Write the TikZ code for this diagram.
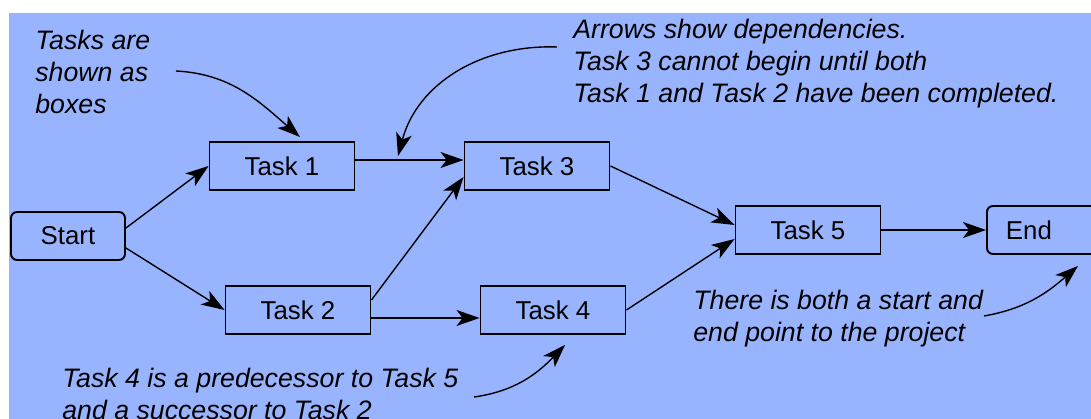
\documentclass[tikz,border=0pt]{standalone}
\usepackage{fontspec}
\setmainfont{Liberation Sans}
\usepackage{xcolor}
\usepackage{tikz}
\usetikzlibrary{arrows.meta}
\definecolor{bgblue}{RGB}{153,180,255}
\tikzset{ task_box/.style = {rectangle, draw, line width=1.1pt, minimum width=2.9cm, minimum height=0.96cm, font=\fontsize{14.7}{18.2}\selectfont} }
\tikzset{ end_box/.style = {task_box, rounded corners=0.12cm} }
\tikzset{ note/.style = {anchor=north west, inner sep=0pt, align=left, font=\fontsize{15.2}{18.2}\selectfont\itshape} }
\tikzset{ dep/.style = {line width=0.8pt, -{Stealth[length=0.46cm, width=0.32cm, inset=0.12cm]}} }

\begin{document}
\begin{tikzpicture}
\useasboundingbox (0,0) rectangle (21.82,8.38);
\clip (0,0) rectangle (21.82,8.38);
\fill[white] (0,0) rectangle (21.82,8.38);
\fill[bgblue] (0.18,0) rectangle (21.82,8.12);
\node[end_box, minimum width=2.28cm] (start) at (1.36,3.66) {Start};
\node[task_box] (1) at (5.64,5.06) {Task 1};
\node[task_box] (2) at (5.96,2.18) {Task 2};
\node[task_box] (3) at (10.74,5.06) {Task 3};
\node[task_box] (4) at (11.06,2.18) {Task 4};
\node[task_box] (5) at (16.16,3.78) {Task 5};
\node[end_box, anchor=west, text width=2.14cm, inner xsep=0.38cm, align=left] (stop) at (19.72,3.78) {End};
\node[note] (boxes) at (0.70,7.78) {Tasks are\\shown as\\boxes};
\node[note] (deps) at (11.46,8.0) {Arrows show dependencies.\\Task 3 cannot begin until both\\Task 1 and Task 2 have been completed.};
\node[note] (ends) at (13.86,2.58) {There is both a start and\\end point to the project};
\node[note] (pred) at (1.24,1.02) {Task 4 is a predecessor to Task 5\\and a successor to Task 2};
\coordinate (a1) at (3.52,6.96);
\coordinate (b1) at (11.14,7.44);
\coordinate (b2) at (7.96,5.26);
\coordinate (c1) at (19.68,2.06);
\coordinate (c2) at (21.56,3.06);
\coordinate (d1) at (9.48,0.44);
\draw[dep] ([yshift=0.16cm]start.east) -- (1.west);
\draw[dep] ([yshift=-0.24cm]start.east) -- (2.west);
\draw[dep] ([yshift=0.12cm]1.east) -- ([yshift=0.12cm]3.west);
\draw[dep] ([yshift=0.2cm]2.east) -- ([yshift=-0.22cm]3.west);
\draw[dep] ([yshift=-0.16cm]2.east) -- ([yshift=-0.16cm]4.west);
\draw[dep] (3.east) -- ([yshift=0.1cm]5.west);
\draw[dep] (4.east) -- ([yshift=-0.18cm]5.west);
\draw[dep] (5.east) -- (stop.west);
\draw[dep] (a1) to[out=-3,in=139] ([shift={(0.36,0.08)}]1.north);
\draw[dep] (b1) to[out=178,in=75] (b2);
\draw[dep] (c1) to[out=10,in=-139] (c2);
\draw[dep] (d1) to[out=8,in=-134] ([shift={(0.24,-0.2)}]4.south);
\end{tikzpicture}
\end{document}
